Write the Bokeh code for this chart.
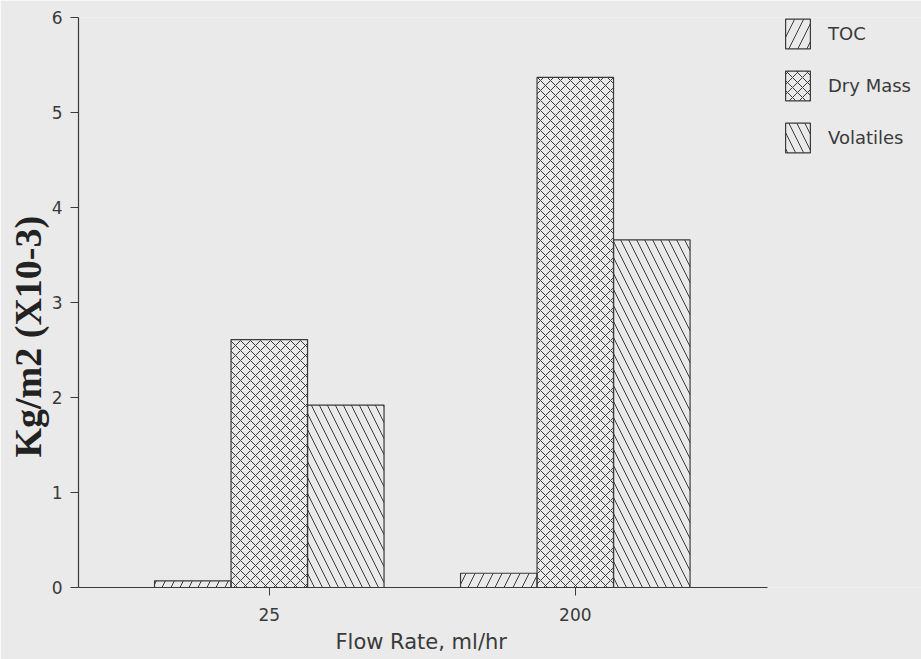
from bokeh.plotting import figure
from bokeh.models import ColumnDataSource, Range1d, FixedTicker, Legend, LegendItem, Title
from bokeh.transform import dodge
from bokeh.embed import file_html
from bokeh.resources import INLINE

# ---- data ----
flow_rates = ["25", "200"]
toc = [0.07, 0.15]
dry_mass = [2.61, 5.37]
volatiles = [1.92, 3.66]
series_names = ["TOC", "Dry Mass", "Volatiles"]
y_ticks = [0, 1, 2, 3, 4, 5, 6]
y_title = "Kg/m2 (X10-3)"
x_title = "Flow Rate, ml/hr"

BG = "#eaeaea"
INK = "#3a3a3a"

xpos = list(range(1, len(flow_rates) + 1))
src = ColumnDataSource(dict(x=xpos, toc=toc, dry=dry_mass, vol=volatiles))

p = figure(width=921, height=659, output_backend="svg", toolbar_location=None,
           x_range=Range1d(0.3765, 3.1314), y_range=Range1d(0, 6),
           min_border_left=78, min_border_right=0, min_border_top=17, min_border_bottom=72)
p.background_fill_color = BG
p.border_fill_color = BG
p.outline_line_color = None
p.grid.visible = False

common = dict(width=0.25, bottom=0, source=src, fill_color=None,
              line_color=INK, line_width=1.2, hatch_color=INK, hatch_weight=1.0)
r1 = p.vbar(x=dodge("x", -0.25), top="toc", hatch_pattern="/", hatch_scale=18, **common)
r2 = p.vbar(x=dodge("x", 0.0), top="dry", hatch_pattern="x", hatch_scale=10, **common)
r3 = p.vbar(x=dodge("x", 0.25), top="vol", hatch_pattern="\\", hatch_scale=16, **common)

# x axis
xa = p.xaxis[0]
xa.ticker = FixedTicker(ticks=xpos)
xa.major_label_overrides = {x: lab for x, lab in zip(xpos, flow_rates)}
xa.bounds = (0.3765, 2.629)
xa.major_label_text_font = "DejaVu Sans"
xa.major_label_text_font_size = "17px"
xa.major_label_text_color = INK
xa.major_label_standoff = 12
xa.major_tick_out = 8
xa.major_tick_in = 0
xa.minor_tick_line_color = None
xa.axis_line_color = INK
xa.axis_line_width = 1.2
xa.major_tick_line_color = INK

# y axis
ya = p.yaxis[0]
ya.ticker = FixedTicker(ticks=y_ticks)
ya.bounds = (0, 6)
ya.major_label_text_font = "DejaVu Sans"
ya.major_label_text_font_size = "17px"
ya.major_label_text_color = INK
ya.major_label_standoff = 8
ya.major_label_orientation = "horizontal"
ya.major_tick_out = 8
ya.major_tick_in = 0
ya.minor_tick_line_color = None
ya.axis_line_color = INK
ya.axis_line_width = 1.2
ya.major_tick_line_color = INK

# y title in the left panel, a little below the axis centre as in the reference
p.add_layout(Title(text=y_title, align="left", offset=130, standoff=0,
                   text_font="Liberation Serif", text_font_style="bold",
                   text_font_size="38px", text_color="#222222"), "left")

# x title centred under the drawn part of the x axis
p.add_layout(Title(text=x_title, align="left", offset=257, standoff=8,
                   text_font="DejaVu Sans", text_font_style="normal",
                   text_font_size="21px", text_color=INK), "below")

legend = Legend(items=[LegendItem(label=n, renderers=[r]) for n, r in zip(series_names, [r1, r2, r3])],
                location=(704, 431), orientation="vertical",
                glyph_width=31, glyph_height=37, spacing=15, label_standoff=15,
                padding=0, margin=0, background_fill_alpha=0, border_line_color=None,
                label_text_font="DejaVu Sans", label_text_font_size="18px",
                label_text_color=INK, label_height=37)
p.add_layout(legend, "center")

open("out.html", "w").write(file_html(p, INLINE))
